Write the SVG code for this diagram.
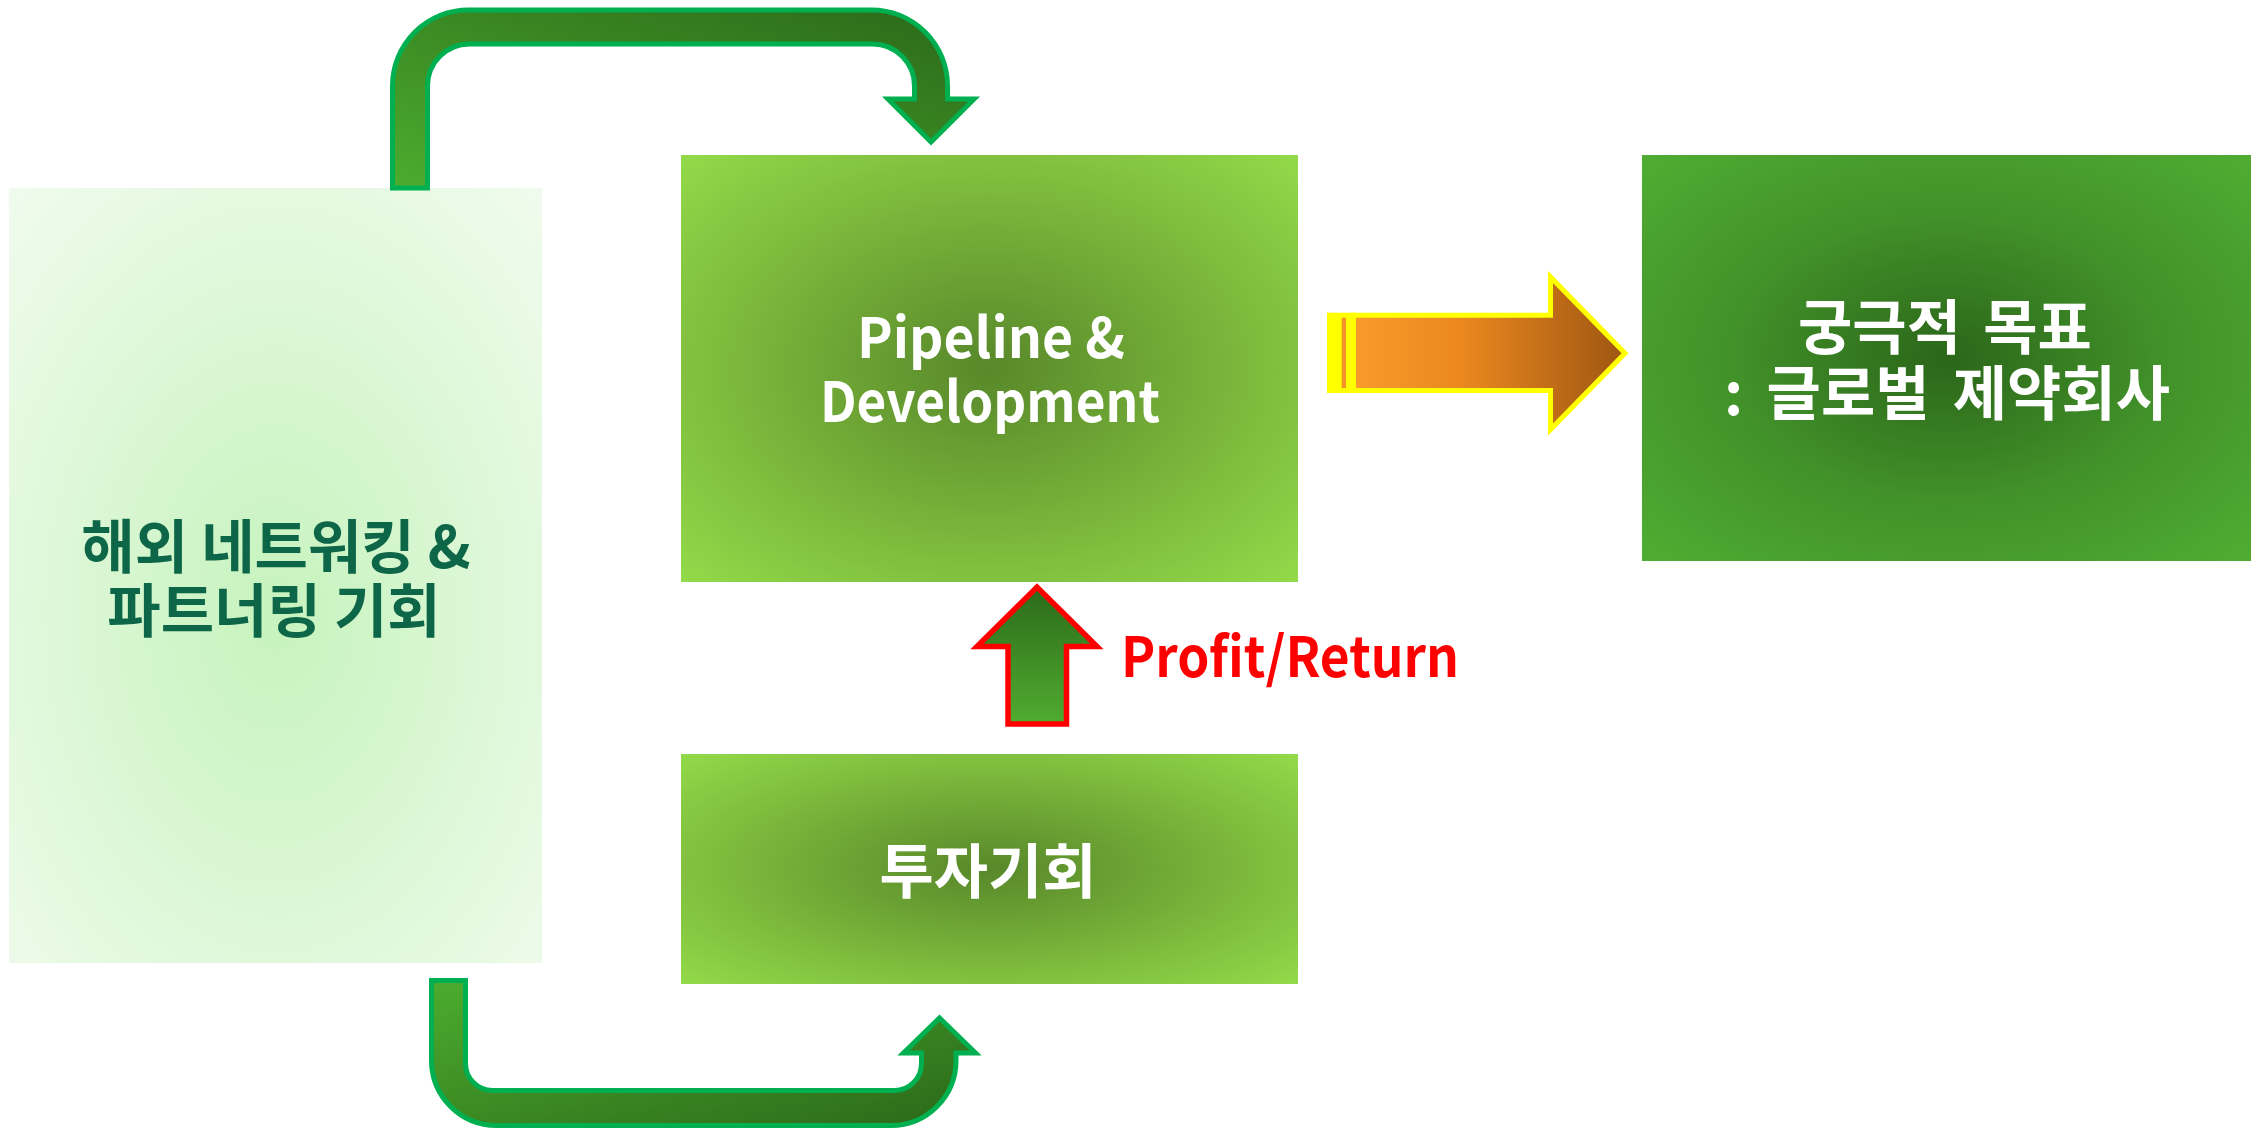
<svg xmlns="http://www.w3.org/2000/svg" width="2260" height="1131" viewBox="0 0 2260 1131">
<style>
.t{font-family:"Noto Sans CJK KR","Noto Sans",sans-serif;font-weight:bold;font-size:56px}
.k{font-size:59px}
.w{fill:#ffffff}
.dg{fill:#0d6648;font-size:58px}
.conn{stroke:#00b050;stroke-width:5;stroke-linejoin:miter}
</style>
<defs>
<radialGradient id="gLeft" cx="0.5" cy="0.55" r="0.72">
<stop offset="0" stop-color="#c6f3bd"/>
<stop offset="1" stop-color="#effbec"/>
</radialGradient>
<radialGradient id="gMid" cx="0.5" cy="0.5" r="0.72">
<stop offset="0" stop-color="#58882a"/>
<stop offset="0.45" stop-color="#74ae38"/>
<stop offset="1" stop-color="#94dc4a"/>
</radialGradient>
<radialGradient id="gGoal" cx="0.5" cy="0.5" r="0.72">
<stop offset="0" stop-color="#2b6619"/>
<stop offset="0.5" stop-color="#42922a"/>
<stop offset="1" stop-color="#50ae32"/>
</radialGradient>
<linearGradient id="gTop" x1="0" y1="1" x2="1" y2="0">
<stop offset="0" stop-color="#4cac2e"/>
<stop offset="1" stop-color="#2b6819"/>
</linearGradient>
<linearGradient id="gBot" x1="0" y1="0" x2="1" y2="1">
<stop offset="0" stop-color="#4cac2e"/>
<stop offset="1" stop-color="#2b6819"/>
</linearGradient>
<linearGradient id="gUp" x1="0" y1="0" x2="0" y2="1">
<stop offset="0" stop-color="#2c6a1a"/>
<stop offset="1" stop-color="#50ac30"/>
</linearGradient>
<linearGradient id="gOr" x1="0" y1="0" x2="1" y2="0">
<stop offset="0" stop-color="#fa9a2a"/>
<stop offset="0.4" stop-color="#ea881f"/>
<stop offset="1" stop-color="#9e5612"/>
</linearGradient>
</defs>

<g id="node-networking">
<rect x="9" y="188" width="533" height="775" fill="url(#gLeft)"/>
<text class="t dg" text-anchor="middle"><tspan x="276" y="568">해외 네트워킹 &amp;</tspan><tspan x="274" y="632">파트너링 기회</tspan></text>
</g>

<g id="node-pipeline">
<rect x="681" y="155" width="617" height="427" fill="url(#gMid)"/>
<text class="t w" text-anchor="middle"><tspan x="991" y="358" textLength="268" lengthAdjust="spacingAndGlyphs">Pipeline &amp;</tspan><tspan x="990" y="422" textLength="340" lengthAdjust="spacingAndGlyphs">Development</tspan></text>
</g>

<g id="node-investment">
<rect x="681" y="754" width="617" height="230" fill="url(#gMid)"/>
<text class="t k w" x="988" y="893" text-anchor="middle">투자기회</text>
</g>

<g id="node-goal">
<rect x="1642" y="155" width="609" height="406" fill="url(#gGoal)"/>
<text class="t k w" text-anchor="middle"><tspan x="1945" y="349" word-spacing="9">궁극적 목표</tspan><tspan x="1947" y="415" word-spacing="10">: 글로벌 제약회사</tspan></text>
</g>

<g id="connectors">
<path class="conn" fill="url(#gTop)" d="M392.5,188 V86 A76,76 0 0 1 468.5,10 H871.5 A76,76 0 0 1 947.5,86 V99 H974 L931,142 L888,99 H914.5 V86 A42,42 0 0 0 872.5,44 H469.5 A42,42 0 0 0 427.5,86 V188 Z"/>
<path class="conn" fill="url(#gBot)" d="M431.5,980.5 H465.5 V1063.5 A27,27 0 0 0 492.5,1090.5 H894.5 A27,27 0 0 0 921.5,1063.5 V1053 H903.5 L939.5,1018 L975.5,1053 H956 V1060.5 A65,65 0 0 1 891,1125.5 H496.5 A65,65 0 0 1 431.5,1060.5 Z"/>
<path fill="url(#gUp)" stroke="#ff0000" stroke-width="5.5" d="M1008,724 V646.5 H977 L1037,587 L1097,646.5 H1066.5 V724 Z"/>
<g id="arrow-orange">
<rect x="1327" y="312.7" width="29" height="80.3" fill="#ffff00"/>
<rect x="1341.7" y="317.7" width="4.3" height="70.3" fill="#f5922a"/>
<path fill="url(#gOr)" stroke="#ffff00" stroke-width="5" d="M1353.5,315.2 H1550.5 V277 L1625,353.3 L1550.5,429.5 V390.5 H1353.5 Z"/>
</g>
<text class="t" x="1121" y="677" fill="#ff0000" textLength="338" lengthAdjust="spacingAndGlyphs">Profit/Return</text>
</g>
</svg>
